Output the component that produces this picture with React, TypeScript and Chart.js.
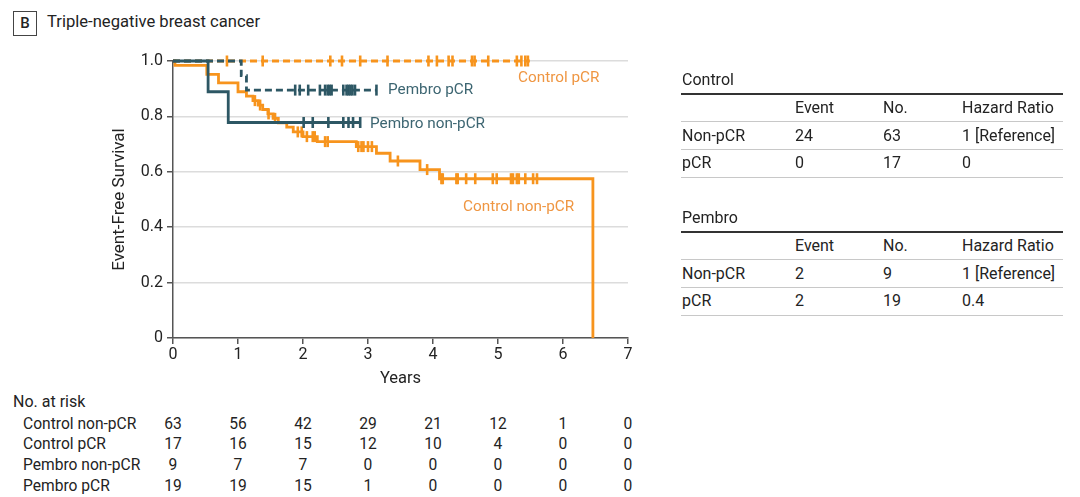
import React, { useEffect, useRef } from 'react';
import { Chart, registerables } from 'chart.js';

Chart.register(...registerables);

// ---------- data ----------
const xTicks = [0, 1, 2, 3, 4, 5, 6, 7];

const ctrlNonPcrTimes = [0, 0.03, 0.52, 0.7, 1.0, 1.13, 1.23, 1.31, 1.38, 1.46, 1.54, 1.62, 1.75, 1.85, 2.0, 2.22, 2.82, 3.13, 3.34, 3.8, 4.1, 6.46];
const ctrlNonPcrSurv = [1, 0.984, 0.952, 0.921, 0.889, 0.873, 0.857, 0.841, 0.825, 0.809, 0.793, 0.777, 0.761, 0.744, 0.727, 0.709, 0.691, 0.667, 0.639, 0.608, 0.575, 0];
const ctrlNonPcrCensor = [1.26, 1.34, 1.47, 1.57, 1.92, 1.98, 2.06, 2.15, 2.18, 2.34, 2.38, 2.85, 2.9, 2.93, 3.0, 3.06, 3.46, 3.91, 4.13, 4.15, 4.36, 4.38, 4.51, 4.65, 4.92, 4.98, 5.2, 5.23, 5.29, 5.32, 5.42, 5.54, 5.6];

const ctrlPcrTimes = [0, 5.49];
const ctrlPcrSurv = [1, 1];
const ctrlPcrCensor = [0.83, 1.38, 2.42, 2.6, 2.88, 3.3, 3.93, 4.06, 4.24, 4.3, 4.6, 4.64, 4.85, 5.29, 5.36, 5.42, 5.46];

const pemNonPcrTimes = [0, 0.54, 0.85, 2.88];
const pemNonPcrSurv = [1, 0.889, 0.778, 0.778];
const pemNonPcrCensor = [2.01, 2.15, 2.39, 2.62, 2.7, 2.77, 2.88];

const pemPcrTimes = [0, 1.05, 1.13, 3.13];
const pemPcrSurv = [1, 0.947, 0.895, 0.895];
const pemPcrCensor = [1.88, 1.95, 2.08, 2.26, 2.34, 2.38, 2.41, 2.44, 2.62, 2.67, 2.7, 2.73, 2.76, 2.8, 3.13];

const riskLabels = ['Control non-pCR', 'Control pCR', 'Pembro non-pCR', 'Pembro pCR'];
const riskCtrlNonPcr = [63, 56, 42, 29, 21, 12, 1, 0];
const riskCtrlPcr = [17, 16, 15, 12, 10, 4, 0, 0];
const riskPemNonPcr = [9, 7, 7, 0, 0, 0, 0, 0];
const riskPemPcr = [19, 19, 15, 1, 0, 0, 0, 0];

const tableHeader = ['Event', 'No.', 'Hazard Ratio'];
const controlRowLabels = ['Non-pCR', 'pCR'];
const controlEvents = ['24', '0'];
const controlNo = ['63', '17'];
const controlHR = ['1 [Reference]', '0'];
const pembroRowLabels = ['Non-pCR', 'pCR'];
const pembroEvents = ['2', '2'];
const pembroNo = ['9', '19'];
const pembroHR = ['1 [Reference]', '0.4'];

// ---------- styles ----------
const ORANGE = '#f7941d';
const TEAL = '#2d5764';
const TEXT = '#232323';
const FONT = 'Roboto, "Liberation Sans", sans-serif';

function survAt(times: number[], surv: number[], t: number) {
  let s = surv[0];
  for (let i = 0; i < times.length; i++) if (times[i] <= t) s = surv[i];
  return s;
}

function curve(times: number[], surv: number[], color: string, dash: number[]) {
  return {
    data: times.map((t, i) => ({ x: t, y: surv[i] })),
    stepped: 'before' as const,
    borderColor: color,
    borderWidth: 2.8,
    borderDash: dash,
    pointRadius: 0,
    fill: false,
    clip: 8,
  };
}

function censors(times: number[], surv: number[], cens: number[], color: string) {
  return {
    data: cens.map((t) => ({ x: t, y: survAt(times, surv, t) })),
    showLine: false,
    pointStyle: 'line' as const,
    rotation: 90,
    pointRadius: 5.5,
    pointBorderWidth: 2.6,
    pointBorderColor: color,
    pointBackgroundColor: color,
    borderColor: color,
    clip: 8,
  };
}

const abs = (left: number, top: number, extra: any = {}): React.CSSProperties => ({
  position: 'absolute',
  left,
  top,
  whiteSpace: 'nowrap',
  ...extra,
});

export default function App() {
  const ref = useRef<HTMLCanvasElement>(null);

  useEffect(() => {
    if (!ref.current) return;
    Chart.defaults.font.family = FONT;
    const chart = new Chart(ref.current, {
      type: 'line',
      data: {
        datasets: [
          curve(pemPcrTimes, pemPcrSurv, TEAL, [7, 4]) as any,
          censors(pemPcrTimes, pemPcrSurv, pemPcrCensor, TEAL),
          curve(pemNonPcrTimes, pemNonPcrSurv, TEAL, []),
          censors(pemNonPcrTimes, pemNonPcrSurv, pemNonPcrCensor, TEAL),
          curve(ctrlNonPcrTimes, ctrlNonPcrSurv, ORANGE, []),
          censors(ctrlNonPcrTimes, ctrlNonPcrSurv, ctrlNonPcrCensor, ORANGE),
          curve(ctrlPcrTimes, ctrlPcrSurv, ORANGE, [7, 4]),
          censors(ctrlPcrTimes, ctrlPcrSurv, ctrlPcrCensor, ORANGE),
        ],
      },
      options: {
        responsive: false,
        animation: false,
        layout: { padding: { left: 0, right: 32, top: 61, bottom: 7 } },
        plugins: { legend: { display: false }, tooltip: { enabled: false } },
        scales: {
          x: {
            type: 'linear',
            min: 0,
            max: 7,
            afterBuildTicks: (s: any) => {
              s.ticks = xTicks.map((v) => ({ value: v }));
            },
            afterFit: (s: any) => {
              s.height = 55;
            },
            ticks: { color: TEXT, font: { size: 16 }, padding: 1, maxRotation: 0 },
            grid: { drawOnChartArea: false, tickColor: '#555', tickLength: 6, lineWidth: 1.5 },
            border: { color: '#555', width: 1.5 },
            title: { display: true, text: 'Years', color: TEXT, font: { size: 16.5 }, padding: { top: 0, bottom: 4 } },
          },
          y: {
            type: 'linear',
            min: 0,
            max: 1,
            ticks: {
              stepSize: 0.2,
              color: TEXT,
              font: { size: 16 },
              padding: 4,
              callback: (v: any) => (v === 0 ? '0' : Number(v).toFixed(1)),
            },
            afterFit: (s: any) => {
              s.width = 73;
            },
            grid: { color: '#dcdcdc', lineWidth: 1.5, tickColor: '#555', tickLength: 6 },
            border: { color: '#555', width: 1.5 },
            title: { display: true, text: 'Event-Free Survival', color: TEXT, font: { size: 17 }, padding: { top: 10, bottom: 0 } },
          },
        },
      },
    });
    return () => chart.destroy();
  }, []);

  const riskData = [riskCtrlNonPcr, riskCtrlPcr, riskPemNonPcr, riskPemPcr];
  const riskRowY = [424, 444, 465, 486];
  const colX = [173, 238, 303, 368, 433, 498, 563, 628];

  const table = (
    top: number,
    title: string,
    labels: string[],
    ev: string[],
    no: string[],
    hr: string[]
  ) => {
    const rowY = [top + 28, top + 56, top + 83];
    const lines = [top + 41, top + 69, top + 97];
    return (
      <>
        <div style={abs(682, top - 11, { fontSize: 16, lineHeight: '22px' })}>{title}</div>
        <div style={abs(681, top + 13, { width: 382, height: 1.5, background: '#333' })} />
        <div style={abs(795, rowY[0] - 11, { fontSize: 16, lineHeight: '22px' })}>{tableHeader[0]}</div>
        <div style={abs(883, rowY[0] - 11, { fontSize: 16, lineHeight: '22px' })}>{tableHeader[1]}</div>
        <div style={abs(962, rowY[0] - 11, { fontSize: 16, lineHeight: '22px' })}>{tableHeader[2]}</div>
        {lines.map((ly, i) => (
          <div key={'l' + i} style={abs(681, ly, { width: 382, height: 1, background: '#c8c8c8' })} />
        ))}
        {labels.map((lab, i) => (
          <React.Fragment key={lab}>
            <div style={abs(682, rowY[i + 1] - 11, { fontSize: 16, lineHeight: '22px' })}>{lab}</div>
            <div style={abs(795, rowY[i + 1] - 11, { fontSize: 16, lineHeight: '22px' })}>{ev[i]}</div>
            <div style={abs(883, rowY[i + 1] - 11, { fontSize: 16, lineHeight: '22px' })}>{no[i]}</div>
            <div style={abs(962, rowY[i + 1] - 11, { fontSize: 16, lineHeight: '22px' })}>{hr[i]}</div>
          </React.Fragment>
        ))}
      </>
    );
  };

  return (
    <div
      style={{
        position: 'absolute',
        left: 0,
        top: 0,
        width: 1080,
        height: 497,
        background: '#fff',
        overflow: 'hidden',
        fontFamily: FONT,
        color: TEXT,
      }}
    >
      {/* panel title */}
      <div
        style={abs(13, 11, {
          width: 22,
          height: 23,
          border: '1px solid #444',
          textAlign: 'center',
          fontSize: 15,
          lineHeight: '23px',
          fontWeight: 500,
        })}
      >
        B
      </div>
      <div style={abs(47, 11, { fontSize: 16.6, lineHeight: '22px' })}>Triple-negative breast cancer</div>

      <canvas ref={ref} width={560} height={400} style={abs(100, 0, { width: 560, height: 400 })} />

      {/* curve labels */}
      <div style={abs(518, 67, { fontSize: 15.3, lineHeight: '20px', color: '#ef9642' })}>Control pCR</div>
      <div style={abs(388, 79, { fontSize: 15.3, lineHeight: '20px', color: '#3c6571' })}>Pembro pCR</div>
      <div style={abs(370, 113, { fontSize: 15.3, lineHeight: '20px', color: '#3c6571' })}>Pembro non-pCR</div>
      <div style={abs(463, 196, { fontSize: 15.3, lineHeight: '20px', color: '#ef9642' })}>Control non-pCR</div>

      {/* tables */}
      {table(80, 'Control', controlRowLabels, controlEvents, controlNo, controlHR)}
      {table(218, 'Pembro', pembroRowLabels, pembroEvents, pembroNo, pembroHR)}

      {/* number at risk */}
      <div style={abs(13, 392, { fontSize: 16, lineHeight: '20px' })}>No. at risk</div>
      {riskLabels.map((lab, r) => (
        <React.Fragment key={lab}>
          <div style={abs(23, riskRowY[r] - 10, { fontSize: 15.6, lineHeight: '20px' })}>{lab}</div>
          {riskData[r].map((v, c) => (
            <div
              key={c}
              style={abs(colX[c] - 20, riskRowY[r] - 10, {
                width: 40,
                textAlign: 'center',
                fontSize: 15.6,
                lineHeight: '20px',
              })}
            >
              {v}
            </div>
          ))}
        </React.Fragment>
      ))}
    </div>
  );
}
